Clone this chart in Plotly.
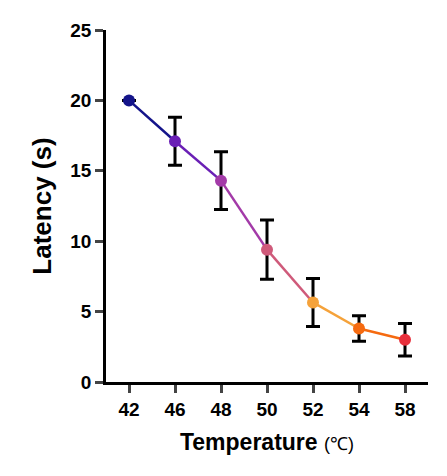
import plotly.graph_objects as go

temps = ["42", "46", "48", "50", "52", "54", "58"]
latency = [20.0, 17.1, 14.3, 9.4, 5.65, 3.8, 3.0]
err = [0, 1.7, 2.05, 2.1, 1.7, 0.9, 1.15]
colors = ["#14148a", "#6a1fb5", "#a33aa8", "#cf5a7a", "#f5a23a", "#f56a10", "#e8303c"]

fig = go.Figure()
for i in range(len(temps) - 1):
    fig.add_trace(go.Scatter(x=temps[i:i+2], y=latency[i:i+2], mode="lines",
                             line=dict(color=colors[i], width=2.5), showlegend=False, hoverinfo="skip"))
fig.add_trace(go.Scatter(x=temps, y=latency, mode="markers",
                         marker=dict(color=colors, size=12),
                         error_y=dict(type="data", array=err, color="black", thickness=3, width=7),
                         showlegend=False))

fig.update_layout(
    width=447, height=476, plot_bgcolor="white", paper_bgcolor="white",
    margin=dict(l=98, r=27, t=17, b=102),
    font=dict(family="Liberation Sans, Arial", color="black"),
    xaxis=dict(type="category", range=[-0.5, 6.5], showline=True, linecolor="black", linewidth=2.5,
               ticks="outside", ticklen=8, tickwidth=2.5,
               tickfont=dict(size=19, weight="bold"),
               title=dict(text="<b>Temperature</b> <span style='font-size:18px'>(℃)</span>",
                          font=dict(size=23), standoff=16)),
    yaxis=dict(range=[0, 25], dtick=5, showline=True, linecolor="black", linewidth=2.5,
               ticks="outside", ticklen=8, tickwidth=2.5, showgrid=False, zeroline=False,
               tickfont=dict(size=19, weight="bold"),
               title=dict(text="<b>Latency (s)</b>", font=dict(size=26), standoff=12)),
)
fig.write_html("out.html")
